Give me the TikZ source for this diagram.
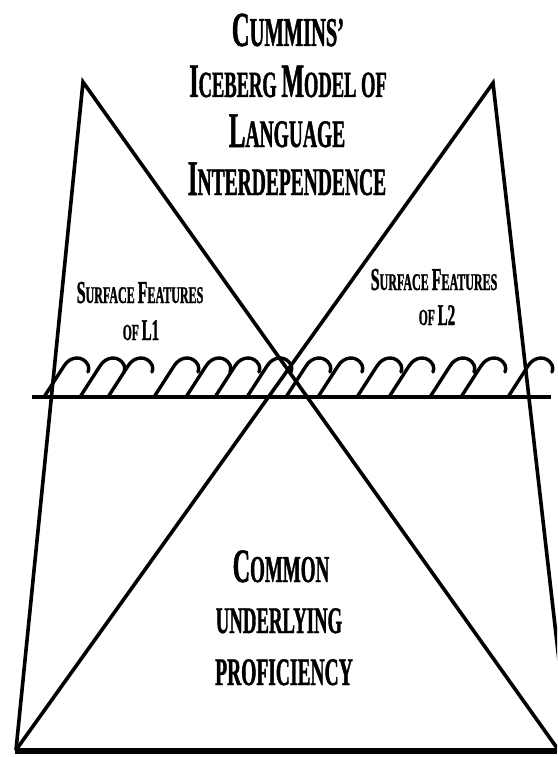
\documentclass[tikz,border=0pt]{standalone}
\usepackage{fontspec}
\newfontfamily\ibfont[FakeStretch=0.5, FakeBold=1.0]{Liberation Serif Bold}
\newcommand\capsz[2]{{\fontsize{#1pt}{#1pt}\selectfont #2}}

\begin{document}
\begin{tikzpicture}[x=1pt, y=-1pt, line width=3.6pt, line join=miter,
    caption/.style={font=\ibfont, anchor=base, inner sep=0pt},
    wave/.style={line width=3.4pt, line cap=round}]
  \useasboundingbox[fill=white] (0,0) rectangle (557,757);
  \clip (0,0) rectangle (557,757);
  % corners of the two triangles
  \coordinate (apexL) at (83,82);
  \coordinate (apexR) at (493,83);
  \coordinate (footL) at (16,750);
  \coordinate (footR) at (557,748);
  \coordinate (edgeR) at (570,757);
  \coordinate (waterL) at (32,397);
  \coordinate (waterR) at (551,397);
  \coordinate (floorL) at (15,751);
  \coordinate (floorR) at (557,751);
  % left triangle
  \draw (footL) -- (apexL) -- (footR);
  % right triangle
  \draw (footL) -- (apexR) -- (edgeR);
  % surface waves
  \foreach \t in {78,114,142,188,220,249,281,320,352,391,423,464,495,542}{
    \draw[wave] (\t-34,397) -- (\t-14,366)
      .. controls (\t-8,356) and (\t+5,355) .. (\t+10,365)
      .. controls (\t+11,368) .. (\t+10,372);
  }
  % water line and floor
  \draw[line width=4.5pt] (waterL) -- (waterR);
  \draw[line width=6pt] (floorL) -- (floorR);
  % title
  \node[caption] (title1) at (288,46) {\capsz{49}{C}\capsz{41}{UMMINS’}};
  \node[caption] (title2) at (288,97) {\capsz{48}{I}\capsz{37}{CEBERG }\capsz{48}{M}\capsz{37}{ODEL OF}};
  \node[caption] (title3) at (287,147) {\capsz{50}{L}\capsz{39}{ANGUAGE}};
  \node[caption] (title4) at (287,195) {\capsz{50}{I}\capsz{39}{NTERDEPENDENCE}};
  % surface features
  \node[caption] (surfL) at (140,303) {\capsz{32}{S}\capsz{24}{URFACE }\capsz{32}{F}\capsz{24}{EATURES}};
  \node[caption] (langL) at (141,340) {\capsz{23}{OF }\capsz{30}{L1}};
  \node[caption] (surfR) at (434,290) {\capsz{32}{S}\capsz{24}{URFACE }\capsz{32}{F}\capsz{24}{EATURES}};
  \node[caption] (langR) at (437,325) {\capsz{23}{OF }\capsz{30}{L2}};
  % common underlying proficiency
  \node[caption] (cup1) at (281,582) {\capsz{48}{C}\capsz{38}{OMMON}};
  \node[caption] (cup2) at (279,633) {\capsz{37.5}{UNDERLYING}};
  \node[caption] (cup3) at (284,685) {\capsz{39}{PROFICIENCY}};
\end{tikzpicture}
\end{document}
